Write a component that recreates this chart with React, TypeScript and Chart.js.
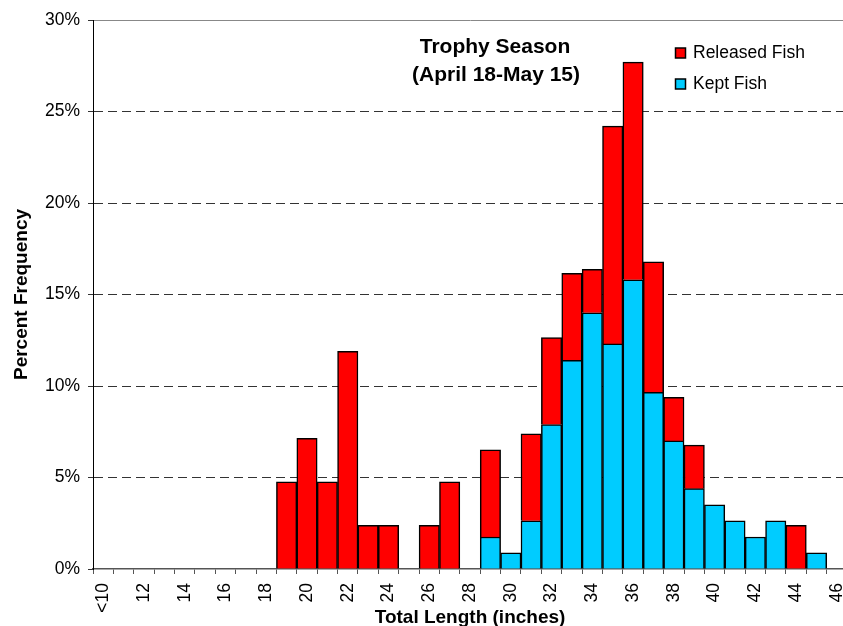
import React, { useEffect, useRef } from "react";
import { Chart, registerables } from "chart.js";

Chart.register(...registerables);

const categories = [
  "<10", "11", "12", "13", "14", "15", "16", "17", "18", "19",
  "20", "21", "22", "23", "24", "25", "26", "27", "28", "29",
  "30", "31", "32", "33", "34", "35", "36", "37", "38", "39",
  "40", "41", "42", "43", "44", "45", "46",
];

// Percent of released fish per length class
const releasedFish: (number | null)[] = [
  null, null, null, null, null, null, null, null, null, 4.76,
  7.14, 4.76, 11.9, 2.38, 2.38, null, 2.38, 4.76, null, 4.76,
  null, 4.76, 4.76, 4.76, 2.38, 11.9, 11.9, 7.14, 2.38, 2.38,
  null, null, null, null, 2.38, null, null,
];

// Percent of kept fish per length class
const keptFish: (number | null)[] = [
  null, null, null, null, null, null, null, null, null, null,
  null, null, null, null, null, null, null, null, null, 1.75,
  0.88, 2.63, 7.89, 11.4, 14.0, 12.3, 15.8, 9.65, 7.0, 4.39,
  3.51, 2.63, 1.75, 2.63, null, 0.88, null,
];

const yTicks = [0, 5, 10, 15, 20, 25, 30];
const annotationLines = ["Trophy Season", "(April 18-May 15)"];

const FONT = '"Liberation Sans", Arial, sans-serif';

const overlayPlugin = {
  id: "overlay",
  afterDraw(chart: any) {
    const ctx = chart.ctx as CanvasRenderingContext2D;
    ctx.save();
    ctx.fillStyle = "#000";
    ctx.textAlign = "center";
    ctx.textBaseline = "middle";
    ctx.font = `bold 21px ${FONT}`;
    ctx.fillText(annotationLines[0], 495, 47);
    ctx.fillText(annotationLines[1], 496, 75);

    // legend (reverse dataset order: Released on top)
    const ds = [...chart.data.datasets].reverse();
    ctx.textAlign = "left";
    ctx.font = `17.5px ${FONT}`;
    ds.forEach((d: any, i: number) => {
      const y = 53 + i * 31;
      ctx.fillStyle = d.backgroundColor;
      ctx.fillRect(675.5, y - 5, 10, 10);
      ctx.strokeStyle = "#000";
      ctx.lineWidth = 1.5;
      ctx.strokeRect(675.5, y - 5, 10, 10);
      ctx.fillStyle = "#000";
      ctx.fillText(d.label, 693, y);
    });
    ctx.restore();
  },
};

export default function App() {
  const canvasRef = useRef<HTMLCanvasElement | null>(null);

  useEffect(() => {
    const canvas = canvasRef.current;
    if (!canvas) return;
    document.documentElement.style.overflow = "hidden";
    document.body.style.overflow = "hidden";

    const chart = new Chart(canvas, {
      type: "bar",
      data: {
        labels: categories,
        datasets: [
          {
            label: "Kept Fish",
            data: keptFish,
            backgroundColor: "#00CCFF",
            borderColor: "#000",
            borderWidth: 1.5,
            barPercentage: 1,
            categoryPercentage: 1,
          },
          {
            label: "Released Fish",
            data: releasedFish,
            backgroundColor: "#FF0000",
            borderColor: "#000",
            borderWidth: 1.5,
            barPercentage: 1,
            categoryPercentage: 1,
          },
        ],
      },
      options: {
        responsive: false,
        animation: false,
        layout: { padding: { top: 20, right: 8, left: 0, bottom: 0 } },
        plugins: {
          legend: { display: false },
          tooltip: { enabled: false },
          title: { display: false },
        },
        scales: {
          x: {
            stacked: true,
            offset: true,
            afterFit: (scale: any) => {
              scale.height = 57;
            },
            grid: {
              display: true,
              drawOnChartArea: false,
              drawTicks: true,
              offset: true,
              tickLength: 5,
              tickColor: "#555",
              tickWidth: 1,
            },
            border: { display: true, color: "#555", width: 1.5 },
            ticks: {
              autoSkip: false,
              maxRotation: 90,
              minRotation: 90,
              padding: 9,
              color: "#000",
              font: { family: FONT, size: 17.5 },
              callback: (_v: any, i: number) => (i % 2 === 0 ? categories[i] : ""),
            },
            title: {
              display: true,
              text: "Total Length (inches)",
              color: "#000",
              font: { family: FONT, size: 19, weight: "bold", lineHeight: 1 },
              padding: { top: -1, bottom: -1 },
            },
          },
          y: {
            stacked: true,
            min: 0,
            max: 30,
            afterFit: (scale: any) => {
              scale.width = 93;
            },
            afterBuildTicks: (scale: any) => {
              scale.ticks = yTicks.map((v) => ({ value: v }));
            },
            grid: {
              color: (c: any) =>
                c.tick && c.tick.value === 0
                  ? "rgba(0,0,0,0)"
                  : c.tick && c.tick.value === 30
                  ? "#888"
                  : "#333",
              lineWidth: 1,
              drawTicks: true,
              tickLength: 5,
              tickColor: "#333",
            },
            border: {
              display: true,
              color: "#000",
              width: 1,
              dash: (c: any) => (c.tick && c.tick.value === 30 ? [] : [9, 5]),
            },
            ticks: {
              padding: 8,
              color: "#000",
              font: { family: FONT, size: 17.5 },
              callback: (v: any) => `${v}%`,
            },
            title: {
              display: true,
              text: "Percent Frequency",
              color: "#000",
              font: { family: FONT, size: 19, weight: "bold" },
              padding: { top: 10, bottom: 0 },
            },
          },
        },
      },
      plugins: [overlayPlugin],
    });

    return () => {
      chart.destroy();
    };
  }, []);

  return (
    <div
      style={{
        position: "fixed",
        left: 0,
        top: 0,
        width: 843,
        height: 626,
        overflow: "hidden",
        background: "#fff",
      }}
    >
      <canvas ref={canvasRef} width={867} height={626} style={{ display: "block" }} />
    </div>
  );
}
